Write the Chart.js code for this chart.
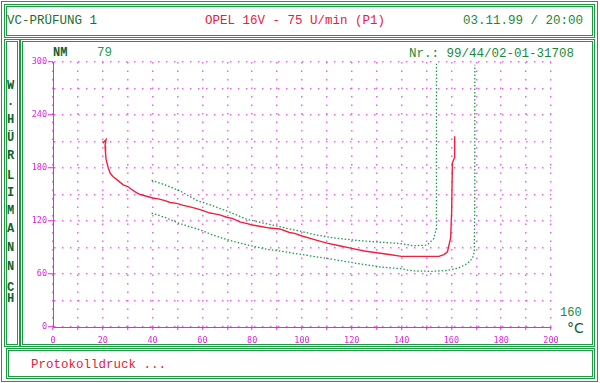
<!DOCTYPE html>
<html>
<head>
<meta charset="utf-8">
<script src="https://cdn.jsdelivr.net/npm/chart.js@4/dist/chart.umd.min.js"></script>
<style>
  html,body{margin:0;padding:0;background:#fff;}
  #wrap{position:relative;width:600px;height:383px;overflow:hidden;background:#fff;}
  .box{position:absolute;box-sizing:border-box;border:3px double #1e9a44;}
  .t{position:absolute;font-family:'Liberation Mono','DejaVu Sans Mono',monospace;white-space:pre;line-height:1;}
  #c{position:absolute;left:0;top:0;z-index:2;}
</style>
</head>
<body>
<div id="wrap">
  <div class="box" style="left:1px;top:1px;width:597px;height:381px;border:1px solid #1e9a44;"></div>
  <div class="box" style="left:4px;top:4px;width:591px;height:34px;"></div>
  <div class="box" style="left:4px;top:39px;width:16px;height:308px;"></div>
  <div class="box" style="left:20px;top:39px;width:575px;height:308px;"></div>
  <div class="box" style="left:6px;top:348px;width:589px;height:31px;"></div>

  <div class="t" style="left:7px;top:15px;font-size:12.5px;color:#1a7030;">VC-PRÜFUNG 1</div>
  <div class="t" style="left:205px;top:15px;font-size:12.5px;color:#e8203c;">OPEL 16V - 75 U/min (P1)</div>
  <div class="t" style="left:463px;top:15px;font-size:12.5px;color:#1a8a3a;">03.11.99 / 20:00</div>

  <div class="t" style="left:53px;top:47px;font-size:12px;font-weight:bold;color:#13602a;">NM</div>
  <div class="t" style="left:97px;top:47px;font-size:12.5px;color:#1f9a44;">79</div>
  <div class="t" style="left:409px;top:48px;font-size:12.5px;color:#1a8a3a;">Nr.: 99/44/02-01-31708</div>

  <div class="t" style="left:560px;top:307px;font-size:12px;color:#1a8a3a;">160</div>
  <div class="t" style="left:567px;top:321px;font-size:14px;font-family:'DejaVu Sans',sans-serif;color:#13602a;">°C</div>

  <div class="t" style="left:31px;top:359px;font-size:12.5px;color:#e8203c;">Protokolldruck ...</div>
  <div id="side"></div>
  <canvas id="c" width="600" height="383"></canvas>
</div>
<script>
// ---- data ----
const sideLetters = ['W','.','H','Ü','R','L','I','M','A','N','N','C','H'];
const sideCenters = [86,102,120,138,156,176,193,211,229,248,267,288,299];

const yTicks = [0, 60, 120, 180, 240, 300];
const xTicks = [0, 20, 40, 60, 80, 100, 120, 140, 160, 180, 200];

const redX = [20, 21.3, 20.9, 21.1, 21.3, 22.2, 23, 24.2, 26, 28.2, 30, 31.5, 33, 35, 37.6, 40, 42.3, 45, 47, 49.7, 52, 55, 57.7, 60, 63, 65, 67, 70, 72, 75, 78, 80, 83, 87, 91, 95, 97, 100, 105, 110, 115, 120, 125, 130, 135, 140, 145, 150, 155, 157, 158.4, 159.7, 160.1, 160.4, 161.3, 161.3];
const redY = [208, 212, 205, 197, 190, 180, 174, 170, 166, 161, 159, 156, 153, 150, 148, 146, 145, 143, 141, 140, 138, 136, 134, 132, 129, 128, 127, 124, 123, 119, 117, 115.5, 114, 112, 111, 107, 106, 103, 99, 95, 92, 89, 86, 84, 82, 80, 80, 80, 80, 82, 85, 101, 131, 186, 192, 216];

const upX = [39.6, 45, 51, 58, 64.4, 71, 77.8, 88, 95, 100, 106, 112.6, 122, 131.3, 139.4, 144.8, 150.2, 152.9, 154, 154, 154];
const upY = [166, 161, 154, 143, 137, 130, 122, 115.5, 111, 108, 104, 101, 98, 96, 94.5, 92, 92.7, 100, 112, 200, 298];

const loX = [39.6, 45, 51, 59, 64.3, 71, 77.8, 85.8, 91.2, 100, 112.6, 122, 131.3, 139.4, 144.8, 152, 158.4, 163, 166.5, 168.5, 169.2, 169.4, 169.4];
const loY = [129, 124, 117, 110, 104, 98, 93, 88, 86, 82, 76.5, 72, 68, 66, 63.5, 63, 64, 67, 72, 78, 85, 150, 297];

// ---- side text ----
const side = document.getElementById('side');
sideLetters.forEach((ch, i) => {
  const d = document.createElement('div');
  d.className = 't';
  d.textContent = ch;
  d.style.cssText = 'left:7px;top:' + (sideCenters[i] - 6) + 'px;font-size:12px;font-weight:bold;color:#13602a;';
  side.appendChild(d);
});

const pts = (xs, ys) => xs.map((x, i) => ({x: x, y: ys[i]}));
const MAG = '#e028e0';
const GRID = '#f060f0';

new Chart(document.getElementById('c'), {
  type: 'scatter',
  data: {
    datasets: [
      {data: pts(upX, upY), showLine: true, borderColor: '#1f9a4a', borderWidth: 1.3, borderDash: [1.5, 2], pointRadius: 0, tension: 0},
      {data: pts(loX, loY), showLine: true, borderColor: '#1f9a4a', borderWidth: 1.3, borderDash: [1.5, 2], pointRadius: 0, tension: 0},
      {data: pts(redX, redY), showLine: true, borderColor: '#f0203c', borderWidth: 1.4, pointRadius: 0, tension: 0}
    ]
  },
  options: {
    responsive: false,
    animation: false,
    devicePixelRatio: 1,
    layout: {padding: {top: 62, right: 49, left: 0, bottom: 0}},
    plugins: {legend: {display: false}, tooltip: {enabled: false}},
    scales: {
      x: {
        type: 'linear', min: 0, max: 200,
        afterFit: s => { s.height = 56; },
        afterBuildTicks: s => { const t = []; for (let v = 0; v <= 200; v += 10) t.push({value: v}); s.ticks = t; },
        ticks: {
          autoSkip: false, maxRotation: 0, padding: 6, color: MAG,
          font: {family: 'DejaVu Sans Mono', size: 8.5},
          callback: v => xTicks.includes(v) ? String(v) : ''
        },
        grid: {color: GRID, lineWidth: 1.5, tickLength: 3, tickColor: MAG, tickWidth: 1},
        border: {color: MAG, width: 1, dash: [1.5, 7]}
      },
      y: {
        type: 'linear', min: 0, max: 300,
        afterFit: s => { s.width = 53; },
        afterBuildTicks: s => { const t = []; for (let v = 0; v <= 300; v += 30) t.push({value: v}); s.ticks = t; },
        ticks: {
          autoSkip: false, padding: 1, color: MAG,
          font: {family: 'DejaVu Sans Mono', size: 8.5},
          callback: v => yTicks.includes(v) ? String(v) : ''
        },
        grid: {color: GRID, lineWidth: 1.5, tickLength: 5, tickWidth: 1,
               tickColor: c => (c.tick && yTicks.includes(c.tick.value)) ? MAG : 'rgba(0,0,0,0)'},
        border: {color: MAG, width: 1, dash: [1.5, 6.5]}
      }
    }
  }
});
</script>
</body>
</html>
